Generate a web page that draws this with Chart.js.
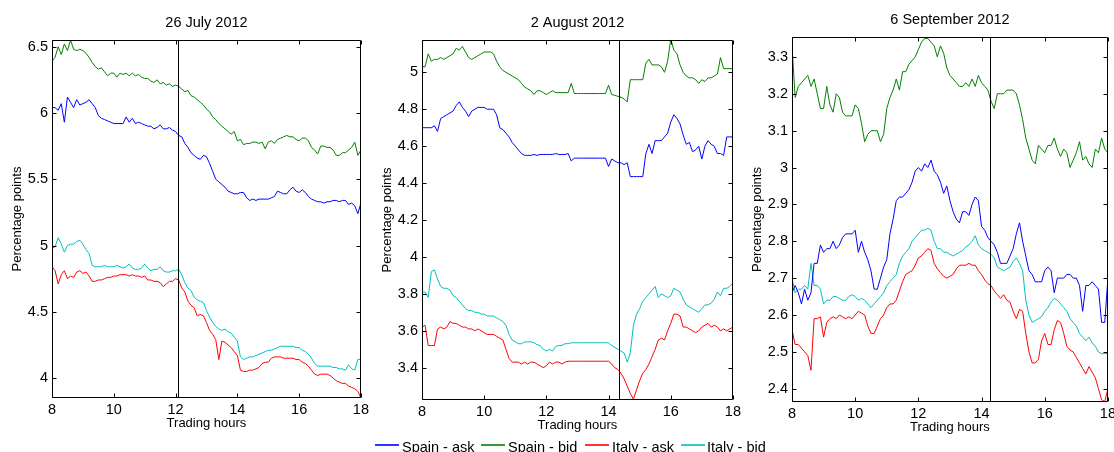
<!DOCTYPE html>
<html>
<head>
<meta charset="utf-8">
<title>Spain and Italy bond yields, ask and bid</title>
<script src="https://cdn.jsdelivr.net/npm/chart.js@4.4.1/dist/chart.umd.min.js"></script>
<style>
    html, body { margin: 0; padding: 0; background: #fff; overflow: hidden; }
    #fig { position: relative; width: 1114px; height: 452px; overflow: hidden;
           font-family: "Liberation Sans", Arial, sans-serif; }
    #fig canvas { position: absolute; top: 0; }
    #legend { position: absolute; left: 0; top: 430px; width: 1114px; height: 22px; }
</style>
</head>
<body>
<div id="fig">
    <canvas id="panel0" width="372" height="440" style="left:0px"></canvas>
    <canvas id="panel1" width="374" height="442" style="left:370px"></canvas>
    <canvas id="panel2" width="379" height="444" style="left:740px"></canvas>
    <svg id="legend" xmlns="http://www.w3.org/2000/svg" width="1114" height="22"></svg>
</div>
<script>
// Quotes sampled every 0.1 trading hour from 8:00 to 18:00 (101 values per series)
const panelTitles = ['26 July 2012', '2 August 2012', '6 September 2012'];
const seriesNames = ['Spain - ask', 'Spain - bid', 'Italy - ask', 'Italy - bid'];
const eventHours = [12.08, 14.34, 14.27];
const yLimits = [[3.85, 6.55], [3.225, 5.175], [2.364, 3.354]];
const yStepSizes = [0.5, 0.2, 0.1];
const hourTicks = [8, 10, 12, 14, 16, 18];

const jul26SpainAsk = [
    6.04, 6.04, 6.02, 6.07, 5.93, 6.12, 6.08, 6.04, 6.10, 6.06,
    6.07, 6.08, 6.10, 6.07, 6.04, 5.98, 5.96, 5.95, 5.94, 5.93,
    5.92, 5.92, 5.92, 5.92, 5.97, 5.93, 5.96, 5.92, 5.93, 5.92,
    5.91, 5.90, 5.90, 5.88, 5.89, 5.91, 5.88, 5.88, 5.89, 5.87,
    5.86, 5.83, 5.82, 5.77, 5.74, 5.70, 5.68, 5.66, 5.65, 5.68,
    5.67, 5.62, 5.56, 5.50, 5.48, 5.46, 5.44, 5.41, 5.40, 5.39,
    5.39, 5.40, 5.40, 5.36, 5.34, 5.35, 5.34, 5.35, 5.35, 5.35,
    5.35, 5.36, 5.37, 5.41, 5.40, 5.39, 5.39, 5.42, 5.44, 5.41,
    5.40, 5.42, 5.40, 5.37, 5.35, 5.34, 5.33, 5.33, 5.32, 5.33,
    5.33, 5.34, 5.34, 5.33, 5.34, 5.34, 5.31, 5.32, 5.30, 5.24,
    5.32
];
const jul26SpainBid = [
    6.39, 6.42, 6.50, 6.44, 6.52, 6.47, 6.55, 6.48, 6.47, 6.48,
    6.47, 6.45, 6.42, 6.38, 6.35, 6.33, 6.34, 6.31, 6.28, 6.30,
    6.30, 6.27, 6.30, 6.29, 6.30, 6.28, 6.30, 6.28, 6.29, 6.27,
    6.26, 6.26, 6.24, 6.23, 6.25, 6.22, 6.23, 6.21, 6.22, 6.20,
    6.21, 6.20, 6.18, 6.16, 6.17, 6.13, 6.12, 6.10, 6.08, 6.06,
    6.03, 6.01, 5.97, 5.95, 5.92, 5.90, 5.88, 5.86, 5.84, 5.86,
    5.79, 5.80, 5.76, 5.77, 5.77, 5.78, 5.78, 5.77, 5.78, 5.73,
    5.78, 5.79, 5.77, 5.80, 5.81, 5.82, 5.83, 5.82, 5.82, 5.80,
    5.79, 5.81, 5.81, 5.79, 5.74, 5.72, 5.69, 5.75, 5.75, 5.74,
    5.74, 5.72, 5.68, 5.68, 5.70, 5.70, 5.72, 5.74, 5.78, 5.68,
    5.72
];
const jul26ItalyAsk = [
    4.84, 4.81, 4.71, 4.78, 4.81, 4.75, 4.77, 4.76, 4.80, 4.81,
    4.79, 4.80, 4.77, 4.73, 4.73, 4.74, 4.74, 4.75, 4.76, 4.76,
    4.77, 4.77, 4.78, 4.78, 4.78, 4.77, 4.78, 4.77, 4.77, 4.76,
    4.77, 4.74, 4.74, 4.73, 4.73, 4.72, 4.69, 4.71, 4.73, 4.73,
    4.75, 4.74, 4.68, 4.65, 4.58, 4.55, 4.53, 4.47, 4.48, 4.47,
    4.42, 4.36, 4.33, 4.29, 4.14, 4.28, 4.27, 4.25, 4.23, 4.20,
    4.17, 4.06, 4.05, 4.05, 4.06, 4.06, 4.07, 4.08, 4.11, 4.12,
    4.12, 4.15, 4.16, 4.16, 4.16, 4.15, 4.15, 4.15, 4.15, 4.14,
    4.14, 4.12, 4.11, 4.09, 4.06, 4.03, 4.02, 4.03, 4.03, 4.03,
    4.02, 4.00, 3.98, 3.97, 3.96, 3.96, 3.94, 3.93, 3.92, 3.90,
    3.85
];
const jul26ItalyBid = [
    4.98, 4.99, 5.06, 5.01, 4.95, 5.00, 5.01, 5.01, 5.03, 5.04,
    5.01, 4.97, 4.94, 4.85, 4.84, 4.84, 4.84, 4.85, 4.84, 4.84,
    4.84, 4.85, 4.84, 4.83, 4.84, 4.86, 4.83, 4.82, 4.82, 4.83,
    4.86, 4.83, 4.81, 4.82, 4.82, 4.84, 4.81, 4.80, 4.80, 4.81,
    4.81, 4.82, 4.78, 4.72, 4.68, 4.66, 4.61, 4.59, 4.58, 4.57,
    4.51, 4.46, 4.42, 4.39, 4.37, 4.36, 4.37, 4.35, 4.34, 4.31,
    4.28, 4.16, 4.14, 4.15, 4.16, 4.16, 4.17, 4.18, 4.19, 4.20,
    4.21, 4.21, 4.22, 4.23, 4.24, 4.24, 4.24, 4.24, 4.24, 4.23,
    4.23, 4.21, 4.20, 4.18, 4.15, 4.11, 4.09, 4.09, 4.09, 4.09,
    4.09, 4.08, 4.08, 4.07, 4.07, 4.06, 4.10, 4.07, 4.06, 4.14,
    4.14
];

const aug2SpainAsk = [
    4.70, 4.70, 4.70, 4.70, 4.71, 4.68, 4.75, 4.76, 4.77, 4.78,
    4.79, 4.82, 4.84, 4.81, 4.79, 4.76, 4.79, 4.80, 4.81, 4.81,
    4.81, 4.80, 4.80, 4.80, 4.77, 4.70, 4.69, 4.67, 4.65, 4.62,
    4.60, 4.58, 4.56, 4.55, 4.55, 4.55, 4.555, 4.55, 4.555, 4.555,
    4.555, 4.555, 4.555, 4.56, 4.555, 4.555, 4.555, 4.56, 4.52, 4.535,
    4.535, 4.535, 4.535, 4.535, 4.535, 4.535, 4.535, 4.535, 4.535, 4.535,
    4.49, 4.53, 4.52, 4.51, 4.51, 4.50, 4.51, 4.435, 4.435, 4.435,
    4.435, 4.435, 4.56, 4.61, 4.56, 4.63, 4.63, 4.63, 4.65, 4.67,
    4.73, 4.77, 4.75, 4.72, 4.66, 4.61, 4.62, 4.57, 4.58, 4.60,
    4.53, 4.60, 4.63, 4.61, 4.60, 4.56, 4.56, 4.55, 4.65, 4.65,
    4.65
];
const aug2SpainBid = [
    5.03, 5.03, 5.10, 5.06, 5.07, 5.07, 5.08, 5.07, 5.08, 5.09,
    5.10, 5.13, 5.12, 5.14, 5.11, 5.08, 5.07, 5.08, 5.09, 5.10,
    5.11, 5.11, 5.11, 5.10, 5.06, 5.03, 5.01, 5.00, 4.99, 4.98,
    4.97, 4.96, 4.94, 4.92, 4.91, 4.90, 4.88, 4.90, 4.90, 4.89,
    4.88, 4.89, 4.90, 4.89, 4.89, 4.89, 4.89, 4.89, 4.94, 4.885,
    4.885, 4.885, 4.885, 4.885, 4.885, 4.885, 4.885, 4.885, 4.885, 4.885,
    4.93, 4.88, 4.875, 4.87, 4.865, 4.855, 4.84, 4.96, 4.96, 4.96,
    4.96, 4.96, 5.05, 5.07, 5.04, 5.04, 5.04, 5.03, 5.00, 5.06,
    5.18, 5.12, 5.10, 5.04, 5.00, 4.98, 4.97, 4.97, 4.96, 4.94,
    4.96, 4.95, 4.97, 4.97, 4.98, 4.99, 5.08, 5.02, 5.02, 5.02,
    5.02
];
const aug2ItalyAsk = [
    3.62, 3.63, 3.52, 3.52, 3.52, 3.61, 3.62, 3.61, 3.62, 3.65,
    3.64, 3.64, 3.63, 3.62, 3.62, 3.61, 3.61, 3.60, 3.61, 3.60,
    3.59, 3.58, 3.58, 3.58, 3.57, 3.56, 3.55, 3.50, 3.45, 3.43,
    3.43, 3.43, 3.42, 3.43, 3.42, 3.43, 3.43, 3.42, 3.41, 3.40,
    3.41, 3.43, 3.42, 3.43, 3.43, 3.42, 3.43, 3.435, 3.435, 3.435,
    3.435, 3.435, 3.435, 3.435, 3.435, 3.435, 3.435, 3.435, 3.435, 3.435,
    3.435, 3.42, 3.40, 3.39, 3.37, 3.34, 3.30, 3.26, 3.23, 3.28,
    3.33, 3.37, 3.39, 3.42, 3.46, 3.50, 3.55, 3.56, 3.55, 3.60,
    3.64, 3.69, 3.69, 3.68, 3.62, 3.62, 3.61, 3.60, 3.59, 3.60,
    3.62, 3.63, 3.64, 3.62, 3.63, 3.62, 3.60, 3.61, 3.60, 3.61,
    3.62
];
const aug2ItalyBid = [
    3.81, 3.81, 3.78, 3.92, 3.93, 3.88, 3.84, 3.83, 3.83, 3.82,
    3.79, 3.78, 3.76, 3.74, 3.72, 3.71, 3.71, 3.70, 3.70, 3.69,
    3.69, 3.68, 3.68, 3.68, 3.67, 3.66, 3.65, 3.63, 3.58, 3.55,
    3.54, 3.53, 3.53, 3.54, 3.54, 3.54, 3.535, 3.525, 3.52, 3.50,
    3.49, 3.50, 3.49, 3.515, 3.52, 3.52, 3.53, 3.53, 3.535, 3.535,
    3.535, 3.535, 3.535, 3.535, 3.535, 3.535, 3.535, 3.535, 3.535, 3.535,
    3.535, 3.52, 3.51, 3.50, 3.49, 3.48, 3.43, 3.48, 3.63, 3.69,
    3.72, 3.76, 3.78, 3.80, 3.82, 3.84, 3.78, 3.80, 3.79, 3.78,
    3.79, 3.83, 3.82, 3.81, 3.77, 3.74, 3.73, 3.72, 3.71, 3.70,
    3.72, 3.74, 3.74, 3.75, 3.77, 3.81, 3.79, 3.83, 3.83, 3.84,
    3.86
];

const sep6SpainAsk = [
    2.66, 2.68, 2.66, 2.63, 2.67, 2.64, 2.66, 2.74, 2.74, 2.79,
    2.77, 2.78, 2.78, 2.80, 2.78, 2.79, 2.81, 2.82, 2.82, 2.82,
    2.83, 2.77, 2.80, 2.77, 2.75, 2.72, 2.67, 2.67, 2.70, 2.73,
    2.75, 2.82, 2.86, 2.91, 2.92, 2.92, 2.93, 2.94, 2.96, 2.99,
    3.00, 2.99, 3.01, 3.00, 3.02, 2.99, 2.98, 2.96, 2.93, 2.95,
    2.91, 2.88, 2.86, 2.85, 2.88, 2.88, 2.87, 2.90, 2.92, 2.91,
    2.84, 2.83, 2.81, 2.80, 2.79, 2.77, 2.74, 2.74, 2.74, 2.76,
    2.78, 2.82, 2.85, 2.80, 2.76, 2.72, 2.71, 2.69, 2.69, 2.69,
    2.72, 2.73, 2.72, 2.66, 2.70, 2.70, 2.70, 2.71, 2.71, 2.70,
    2.70, 2.68, 2.61, 2.68, 2.68, 2.69, 2.68, 2.67, 2.58, 2.58,
    2.70
];
const sep6SpainBid = [
    3.33, 3.19, 3.22, 3.23, 3.24, 3.25, 3.22, 3.24, 3.20, 3.16,
    3.16, 3.22, 3.17, 3.15, 3.20, 3.19, 3.15, 3.14, 3.14, 3.14,
    3.17, 3.16, 3.12, 3.07, 3.09, 3.10, 3.10, 3.10, 3.07, 3.09,
    3.16, 3.19, 3.21, 3.24, 3.21, 3.26, 3.26, 3.28, 3.29, 3.30,
    3.32, 3.34, 3.35, 3.35, 3.34, 3.33, 3.30, 3.33, 3.31, 3.27,
    3.25, 3.24, 3.23, 3.22, 3.22, 3.23, 3.22, 3.24, 3.22, 3.25,
    3.23, 3.22, 3.21, 3.18, 3.16, 3.20, 3.20, 3.20, 3.21, 3.21,
    3.21, 3.20, 3.17, 3.13, 3.08, 3.05, 3.02, 3.01, 3.06, 3.05,
    3.04, 3.06, 3.06, 3.08, 3.05, 3.03, 3.05, 3.04, 3.00, 3.02,
    3.04, 3.07, 3.02, 3.03, 3.01, 3.00, 3.05, 3.04, 3.08, 3.05,
    3.04
];
const sep6ItalyAsk = [
    2.56, 2.52, 2.52, 2.51, 2.50, 2.49, 2.45, 2.59, 2.59, 2.595,
    2.54, 2.58, 2.59, 2.595, 2.59, 2.60, 2.595, 2.59, 2.595, 2.59,
    2.60, 2.61, 2.605, 2.60, 2.57, 2.55, 2.55, 2.57, 2.59, 2.60,
    2.62, 2.63, 2.63, 2.64, 2.665, 2.69, 2.71, 2.715, 2.72, 2.735,
    2.755, 2.76, 2.77, 2.78, 2.775, 2.74, 2.725, 2.715, 2.705, 2.70,
    2.705, 2.71, 2.725, 2.735, 2.735, 2.735, 2.74, 2.735, 2.735, 2.72,
    2.71, 2.695, 2.685, 2.68, 2.665, 2.655, 2.645, 2.655, 2.64, 2.635,
    2.61, 2.59, 2.615, 2.61, 2.55, 2.50, 2.47, 2.47, 2.48, 2.53,
    2.55, 2.52, 2.52, 2.56, 2.585, 2.58, 2.55, 2.515, 2.505, 2.50,
    2.485, 2.47, 2.455, 2.44, 2.46, 2.445, 2.43, 2.40, 2.37, 2.365,
    2.40
];
const sep6ItalyBid = [
    2.70, 2.66, 2.67, 2.67, 2.68, 2.67, 2.74, 2.68, 2.68, 2.67,
    2.63, 2.64, 2.64, 2.65, 2.65, 2.645, 2.64, 2.64, 2.65, 2.655,
    2.65, 2.64, 2.645, 2.64, 2.63, 2.62, 2.63, 2.64, 2.65, 2.66,
    2.68, 2.69, 2.70, 2.71, 2.74, 2.76, 2.77, 2.78, 2.80, 2.81,
    2.82, 2.83, 2.83, 2.835, 2.83, 2.80, 2.78, 2.78, 2.77, 2.77,
    2.765, 2.76, 2.765, 2.77, 2.775, 2.785, 2.79, 2.80, 2.815, 2.79,
    2.78, 2.775, 2.77, 2.765, 2.755, 2.73, 2.725, 2.72, 2.725, 2.73,
    2.745, 2.755, 2.74, 2.72, 2.64, 2.60, 2.58, 2.585, 2.59, 2.595,
    2.61, 2.62, 2.635, 2.645, 2.64, 2.63, 2.62, 2.61, 2.59, 2.58,
    2.57, 2.55, 2.54, 2.53, 2.54, 2.525, 2.515, 2.50, 2.495, 2.495,
    2.495
];

const panelSeries = [
    [jul26SpainAsk, jul26SpainBid, jul26ItalyAsk, jul26ItalyBid],
    [aug2SpainAsk, aug2SpainBid, aug2ItalyAsk, aug2ItalyBid],
    [sep6SpainAsk, sep6SpainBid, sep6ItalyAsk, sep6ItalyBid]
];

const FONT = '"Liberation Sans", Arial, sans-serif';
const seriesColors = ['#0000ff', '#008000', '#ff0000', '#00bfbf'];
const firstHour = 8;
const hourStep = 0.1;
// top of each plot box, so the boxes sit where the original ones do
const plotTops = [40, 40, 37];

// MATLAB style box with inward ticks on all four sides, event line and title
const boxFrame = {
    id: 'boxFrame',
    afterDraw(chart, args, opts) {
        const { ctx, chartArea: a, scales } = chart;
        const L = Math.round(a.left) + 0.5, R = Math.round(a.right) - 0.5;
        const T = Math.round(a.top) + 0.5, B = Math.round(a.bottom) - 0.5;
        const len = 4;
        ctx.save();
        ctx.strokeStyle = '#000';
        ctx.lineWidth = 1;
        ctx.beginPath();
        ctx.rect(L, T, R - L, B - T);
        scales.x.ticks.forEach(t => {
            const px = Math.round(scales.x.getPixelForValue(t.value)) + 0.5;
            ctx.moveTo(px, B); ctx.lineTo(px, B - len);
            ctx.moveTo(px, T); ctx.lineTo(px, T + len);
        });
        scales.y.ticks.forEach(t => {
            const py = Math.round(scales.y.getPixelForValue(t.value)) + 0.5;
            ctx.moveTo(L, py); ctx.lineTo(L + len, py);
            ctx.moveTo(R, py); ctx.lineTo(R - len, py);
        });
        // event line
        const ex = Math.round(scales.x.getPixelForValue(opts.eventHour)) + 0.5;
        ctx.moveTo(ex, T); ctx.lineTo(ex, B);
        ctx.stroke();

        // panel title centred over the plot box
        ctx.fillStyle = '#000';
        ctx.font = '14.5px ' + FONT;
        ctx.textAlign = 'center';
        ctx.textBaseline = 'middle';
        ctx.fillText(opts.title, (a.left + a.right) / 2, a.top - 17);
        ctx.restore();
    }
};

function initPanel(index) {
    const canvas = document.getElementById('panel' + index);
    const [yMin, yMax] = yLimits[index];

    const datasets = panelSeries[index].map((values, k) => ({
        label: seriesNames[k],
        data: values.map((v, i) => ({ x: firstHour + i * hourStep, y: v })),
        borderColor: seriesColors[k],
        borderWidth: 1,
        pointRadius: 0,
        tension: 0,
        fill: false
    }));

    new Chart(canvas, {
        type: 'line',
        data: { datasets: datasets },
        options: {
            responsive: false,
            animation: false,
            events: [],
            layout: { padding: { left: 0, right: 10, top: plotTops[index], bottom: 0 } },
            plugins: {
                legend: { display: false },
                tooltip: { enabled: false },
                title: { display: false },
                boxFrame: { title: panelTitles[index], eventHour: eventHours[index] }
            },
            scales: {
                x: {
                    type: 'linear',
                    min: hourTicks[0],
                    max: hourTicks[hourTicks.length - 1],
                    afterBuildTicks: s => { s.ticks = hourTicks.map(v => ({ value: v })); },
                    ticks: {
                        color: '#000',
                        padding: 3,
                        maxRotation: 0,
                        autoSkip: false,
                        font: { family: FONT, size: 14.5 }
                    },
                    grid: { display: false, drawTicks: false },
                    border: { display: false },
                    title: {
                        display: true,
                        text: 'Trading hours',
                        color: '#000',
                        font: { family: FONT, size: 13 },
                        padding: { top: 0, bottom: 9 }
                    },
                    afterFit: s => { s.height = 42; }
                },
                y: {
                    type: 'linear',
                    min: yMin,
                    max: yMax,
                    ticks: {
                        stepSize: yStepSizes[index],
                        includeBounds: false,
                        color: '#000',
                        padding: 4,
                        font: { family: FONT, size: 14.5 },
                        callback: v => String(+v.toFixed(2))
                    },
                    grid: { display: false, drawTicks: false },
                    border: { display: false },
                    title: {
                        display: true,
                        text: 'Percentage points',
                        color: '#000',
                        font: { family: FONT, size: 13 },
                        padding: { top: 10, bottom: 0 }
                    },
                    afterFit: s => { s.width = 52; }
                }
            }
        },
        plugins: [boxFrame]
    });
}

function buildLegend() {
    const svg = document.getElementById('legend');
    const NS = 'http://www.w3.org/2000/svg';
    const lineLefts = [375, 481, 585, 681];
    const textLefts = [402, 508, 612, 707];
    seriesNames.forEach((name, k) => {
        const line = document.createElementNS(NS, 'line');
        line.setAttribute('x1', lineLefts[k]);
        line.setAttribute('x2', lineLefts[k] + 24);
        line.setAttribute('y1', 15);
        line.setAttribute('y2', 15);
        line.setAttribute('stroke', seriesColors[k]);
        line.setAttribute('stroke-width', 1.6);
        svg.appendChild(line);
        const text = document.createElementNS(NS, 'text');
        text.setAttribute('x', textLefts[k]);
        text.setAttribute('y', 22);
        text.setAttribute('font-family', FONT);
        text.setAttribute('font-size', 14.5);
        text.setAttribute('fill', '#000');
        text.textContent = name;
        svg.appendChild(text);
    });
}

document.addEventListener('DOMContentLoaded', function() {
    if (typeof Chart === 'undefined') {
        console.error('Chart.js is not loaded.');
        return;
    }
    [0, 1, 2].forEach(initPanel);
    buildLegend();
});
</script>
</body>
</html>
